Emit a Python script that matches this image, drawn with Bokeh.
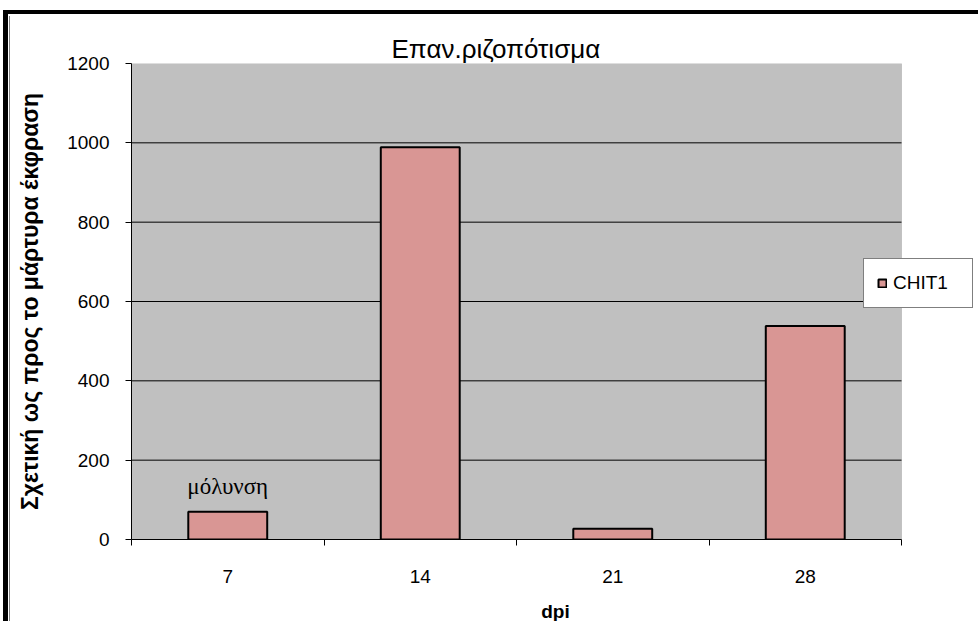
import numpy as np
from bokeh.plotting import figure
from bokeh.models import (Range1d, FixedTicker, Legend, LegendItem, LabelSet,
                          ColumnDataSource, BoxAnnotation)
from bokeh.layouts import column
from bokeh.embed import file_html
from bokeh.resources import INLINE

# ---- data ----
categories = ["7", "14", "21", "28"]
values = [70, 989, 27, 538]
series_name = "CHIT1"
y_ticks = [0, 200, 400, 600, 800, 1000, 1200]
annotation_text = ["μόλυνση"]
annotation_category = ["7"]

title_text = "Επαν.ριζοπότισμα"
x_label = "dpi"
y_label = "Σχετική ως προς το μάρτυρα έκφραση"

FONT = "Liberation Sans"

x_pos = [i + 1 for i in range(len(categories))]
x_lo, x_hi = 0.5, len(categories) + 0.5
src = ColumnDataSource(dict(x=x_pos, top=values, cat=categories))

ann_x = [x_pos[categories.index(c)] for c in annotation_category]
ann_y = [values[categories.index(c)] for c in annotation_category]
ann_src = ColumnDataSource(dict(x=ann_x, y=ann_y, text=annotation_text))

grid_vals = y_ticks[1:-1]
grid_src = ColumnDataSource(dict(y=grid_vals,
                                 x0=[x_lo] * len(grid_vals),
                                 x1=[x_hi] * len(grid_vals)))

# frame extends right of the plot area so the legend can overlap its edge
PX_PER_CAT = 192.5
FRAME_W = 848
x_end = x_lo + FRAME_W / PX_PER_CAT

p = figure(width=969, height=608,
           x_range=Range1d(x_lo, x_end),
           y_range=Range1d(y_ticks[0], y_ticks[-1]),
           output_backend="svg", toolbar_location=None,
           min_border_left=121, min_border_right=0,
           min_border_top=47, min_border_bottom=84,
           background_fill_color="white", border_fill_color="white",
           outline_line_color=None)

# plot area
p.add_layout(BoxAnnotation(left=x_lo, right=x_hi, bottom=y_ticks[0], top=y_ticks[-1],
                           fill_color="#C0C0C0", fill_alpha=1.0,
                           line_color="#808080", line_width=1, level="underlay"))

# title
p.title.text = title_text
p.title.text_font = FONT
p.title.text_font_size = "26px"
p.title.text_font_style = "normal"
p.title.text_color = "black"
p.title.align = "left"
p.title.offset = 260
p.title.standoff = 0

# grid
p.xgrid.grid_line_color = None
p.ygrid.grid_line_color = None
p.segment(x0="x0", x1="x1", y0="y", y1="y", source=grid_src,
          line_color="black", line_width=1)

# bars
r = p.vbar(x="x", top="top", width=0.41, source=src,
           fill_color="#D99694", line_color="black", line_width=2)

# annotation
labels = LabelSet(x="x", y="y", text="text", source=ann_src,
                  y_offset=18, text_align="center", text_baseline="alphabetic",
                  text_font=FONT, text_font_size="23px", text_color="black")
p.add_layout(labels)

# y axis
yax = p.yaxis[0]
yax.ticker = FixedTicker(ticks=y_ticks)
yax.major_tick_out = 6
yax.major_tick_in = 0
yax.minor_tick_line_color = None
yax.major_tick_line_color = "black"
yax.axis_line_color = "black"
yax.major_label_standoff = 16
yax.major_label_text_font = FONT
yax.major_label_text_font_size = "19px"
yax.major_label_text_color = "black"
yax.axis_label = y_label
yax.axis_label_text_font = FONT
yax.axis_label_text_font_size = "23px"
yax.axis_label_text_font_style = "bold"
yax.axis_label_text_color = "black"
yax.axis_label_standoff = 21

# x axis
xax = p.xaxis[0]
xax.bounds = (x_lo, x_hi)
xax.ticker = FixedTicker(ticks=x_pos,
                         minor_ticks=[x - 0.5 for x in x_pos] + [x_pos[-1] + 0.5])
xax.major_label_overrides = {x: c for x, c in zip(x_pos, categories)}
xax.major_tick_out = 0
xax.major_tick_in = 0
xax.major_tick_line_color = None
xax.minor_tick_out = 6
xax.minor_tick_in = 0
xax.minor_tick_line_color = "black"
xax.axis_line_color = "black"
xax.major_label_standoff = 24
xax.major_label_text_font = FONT
xax.major_label_text_font_size = "19px"
xax.major_label_text_color = "black"
xax.axis_label = x_label
xax.axis_label_text_font = FONT
xax.axis_label_text_font_size = "19px"
xax.axis_label_text_font_style = "bold"
xax.axis_label_text_color = "black"
xax.axis_label_standoff = 15

# legend
legend = Legend(items=[LegendItem(label=series_name, renderers=[r])],
                location=(732, 231), orientation="vertical",
                padding=13, margin=0, spacing=0,
                glyph_width=10, glyph_height=10, label_standoff=6,
                label_width=66, label_height=20,
                label_text_font=FONT, label_text_font_size="19px",
                label_text_color="black",
                border_line_color="black", border_line_width=1,
                background_fill_color="white", background_fill_alpha=1.0)
p.add_layout(legend, "center")

p.styles = {"border-left": "1px solid #808080"}

outer = column(p, styles={"margin-left": "3px", "margin-top": "10px",
                          "border-left": "5px solid black",
                          "border-top": "4px solid black",
                          "padding-left": "1px", "padding-top": "2px",
                          "background": "white"})

open("out.html", "w").write(file_html(outer, INLINE))
